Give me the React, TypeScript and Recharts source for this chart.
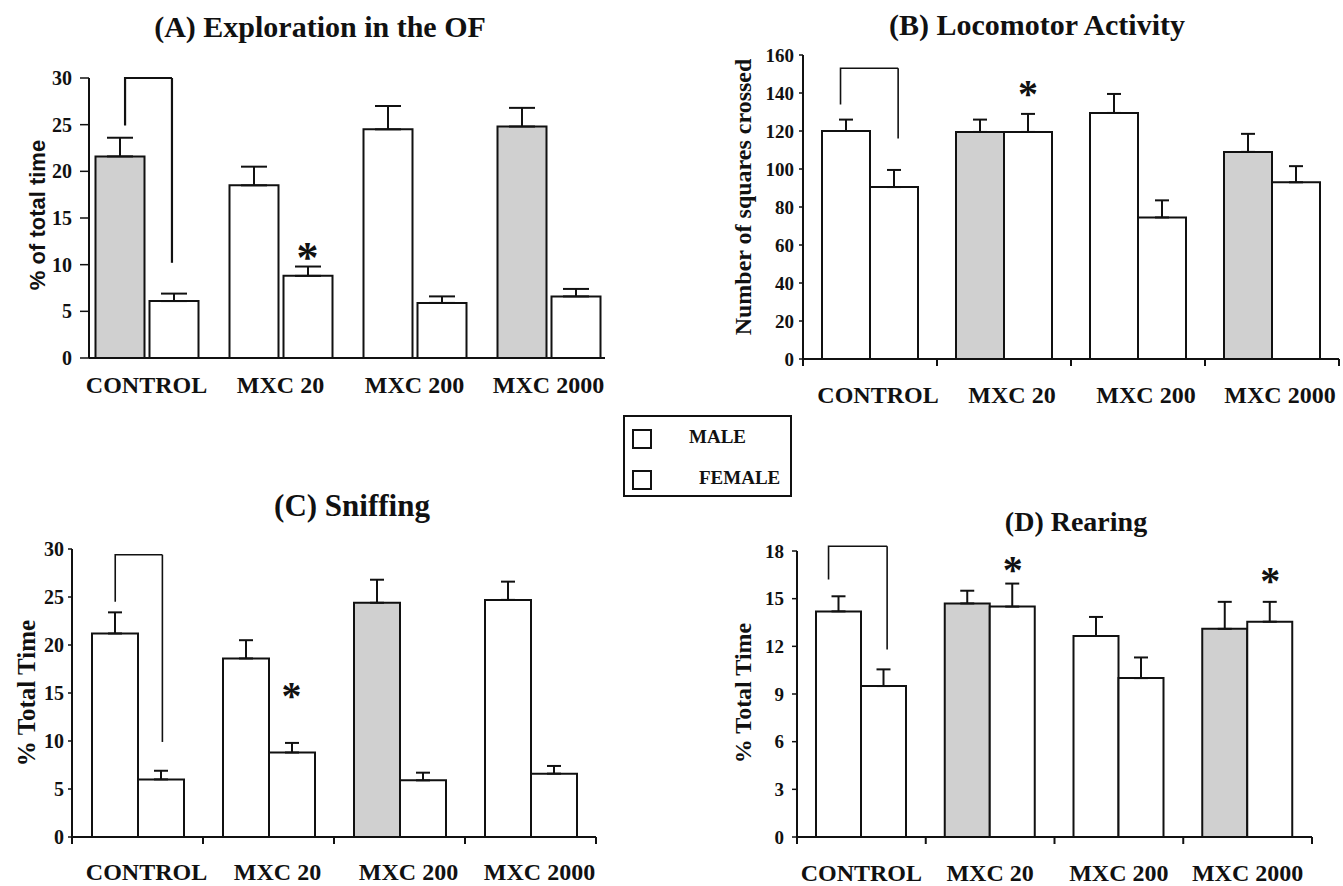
import React from "react";
import {
  BarChart, Bar, XAxis, YAxis, Cell, ErrorBar, ReferenceLine, ReferenceDot,
} from "recharts";

const SERIF = '"Liberation Serif", "Times New Roman", serif';
const SANS = '"Liberation Sans", Arial, sans-serif';
const INK = "#111";
const GRAY = "#d0d0d0";

const groups = ["CONTROL", "MXC 20", "MXC 200", "MXC 2000"];

// (A) Exploration in the OF
const aMale = [21.6, 18.5, 24.5, 24.8];
const aMaleErr = [2.0, 2.0, 2.5, 2.0];
const aFemale = [6.1, 8.8, 5.9, 6.6];
const aFemaleErr = [0.8, 1.0, 0.7, 0.8];
const aMaleGray = [true, false, false, true];
const aTicks = [0, 5, 10, 15, 20, 25, 30];
// bracket over CONTROL: left x, right x (fraction of the group band), top, left end, right end
const aBracket = [0.34, 0.69, 30, 24.9, 10.2];
const aStarGroup = [1];
const aStarY = [11.5];

// (B) Locomotor Activity
const bMale = [120, 119.5, 129.5, 109];
const bMaleErr = [6, 6.5, 10, 9.5];
const bFemale = [90.5, 119.5, 74.5, 93];
const bFemaleErr = [9, 9.5, 9, 8.5];
const bMaleGray = [false, true, false, true];
const bTicks = [0, 20, 40, 60, 80, 100, 120, 140, 160];
const bBracket = [0.28, 0.71, 153, 134, 116];
const bStarGroup = [1];
const bStarY = [142.6];

// (C) Sniffing
const cMale = [21.2, 18.6, 24.4, 24.7];
const cMaleErr = [2.2, 1.9, 2.4, 1.9];
const cFemale = [6.0, 8.8, 5.9, 6.6];
const cFemaleErr = [0.9, 1.0, 0.8, 0.8];
const cMaleGray = [false, false, true, false];
const cTicks = [0, 5, 10, 15, 20, 25, 30];
const cBracket = [0.33, 0.69, 29.4, 24.5, 9.9];
const cStarGroup = [1];
const cStarY = [15.3];

// (D) Rearing
const dMale = [14.2, 14.7, 12.65, 13.1];
const dMaleErr = [0.95, 0.8, 1.2, 1.7];
const dFemale = [9.5, 14.5, 10.0, 13.55];
const dFemaleErr = [1.05, 1.45, 1.3, 1.25];
const dMaleGray = [false, true, false, true];
const dTicks = [0, 3, 6, 9, 12, 15, 18];
const dBracket = [0.245, 0.7, 18.3, 16.2, 11.8];
const dStarGroup = [1, 3];
const dStarY = [17.2, 16.5];

type Layout = {
  left: number; top: number; width: number; height: number;
  margin: { top: number; right: number; bottom: number; left: number };
  yWidth: number; yMax: number; yTickSize: number; yTickMargin: number; yFont: number;
  pad: [number, number]; barSize: number; barGap: number; cap: number;
  xDx: number; xTickMargin: number; edgeTicks: boolean; starSize: number;
  bracketWidth: number;
};

function Panel(props: {
  L: Layout; male: number[]; maleErr: number[]; female: number[]; femaleErr: number[];
  maleGray: boolean[]; ticks: number[]; bracket: number[]; starGroup: number[]; starY: number[];
}) {
  const { L, male, maleErr, female, femaleErr, maleGray, ticks, bracket, starGroup, starY } = props;
  const rows = groups.map((name, i) => ({
    name,
    male: male[i],
    female: female[i],
    maleErr: [0, maleErr[i]],
    femaleErr: [0, femaleErr[i]],
  }));
  const padding = { left: L.pad[0], right: L.pad[1] };
  const plotW = L.width - L.margin.left - L.margin.right - L.yWidth;
  const band = (plotW - L.pad[0] - L.pad[1]) / groups.length;
  const [bl, br, bTop, bLeftEnd, bRightEnd] = bracket;
  const offL = (bl - 0.5) * band;
  const offR = (br - 0.5) * band;
  const femaleOff = L.barGap / 2 + L.barSize / 2;
  const line = { stroke: INK, strokeWidth: L.bracketWidth, fill: "none" };

  return (
    <div style={{ position: "absolute", left: L.left, top: L.top }}>
      <BarChart
        width={L.width} height={L.height} data={rows} margin={L.margin}
        barSize={L.barSize} barGap={L.barGap}
      >
        <XAxis
          dataKey="name" padding={padding} interval={0}
          tickLine={false} tickSize={6} tickMargin={L.xTickMargin} height={45}
          axisLine={{ stroke: INK, strokeWidth: 2 }}
          tick={{ fill: INK, fontSize: 24, fontWeight: 700, fontFamily: SERIF, dx: L.xDx }}
        />
        <YAxis
          domain={[0, L.yMax]} ticks={ticks} interval={0} allowDataOverflow width={L.yWidth}
          tickSize={L.yTickSize} tickMargin={L.yTickMargin}
          axisLine={{ stroke: INK, strokeWidth: 2 }}
          tickLine={{ stroke: INK, strokeWidth: 1.5 }}
          tick={{ fill: INK, fontSize: L.yFont, fontWeight: 700, fontFamily: SERIF }}
        />
        <Bar dataKey="male" fill="#fff" stroke={INK} strokeWidth={2} isAnimationActive={false}>
          {male.map((_, i) => <Cell key={i} fill={maleGray[i] ? GRAY : "#fff"} />)}
          <ErrorBar dataKey="maleErr" direction="y" width={L.cap} stroke={INK} strokeWidth={2} isAnimationActive={false} />
        </Bar>
        <Bar dataKey="female" fill="#fff" stroke={INK} strokeWidth={2} isAnimationActive={false}>
          <ErrorBar dataKey="femaleErr" direction="y" width={L.cap} stroke={INK} strokeWidth={2} isAnimationActive={false} />
        </Bar>

        {L.edgeTicks && groups.map((g, i) => (
          <ReferenceLine
            key={`edge${i}`} x={g} position="start" ifOverflow="visible"
            shape={(p: any) => {
              const yb = Math.max(p.y1, p.y2);
              return <line x1={p.x1} x2={p.x1} y1={yb} y2={yb + 7} stroke={INK} strokeWidth={2} />;
            }}
          />
        ))}
        {L.edgeTicks && (
          <ReferenceLine
            x={groups[groups.length - 1]} position="end" ifOverflow="visible"
            shape={(p: any) => {
              const yb = Math.max(p.y1, p.y2);
              return <line x1={p.x1} x2={p.x1} y1={yb} y2={yb + 7} stroke={INK} strokeWidth={2} />;
            }}
          />
        )}

        {/* significance bracket between CONTROL male and female */}
        <ReferenceLine
          segment={[{ x: groups[0], y: bLeftEnd }, { x: groups[0], y: bTop }]}
          position="middle" ifOverflow="visible"
          shape={(p: any) => (
            <path d={`M${p.x1 + offL},${p.y1}V${p.y2}H${p.x1 + offR}`} {...line} />
          )}
        />
        <ReferenceLine
          segment={[{ x: groups[0], y: bTop }, { x: groups[0], y: bRightEnd }]}
          position="middle" ifOverflow="visible"
          shape={(p: any) => (
            <path d={`M${p.x1 + offR},${p.y1}V${p.y2}`} {...line} />
          )}
        />

        {starGroup.map((g, i) => (
          <ReferenceDot
            key={`star${i}`} x={groups[g]} y={starY[i]} r={0} ifOverflow="visible"
            shape={(p: any) => (
              <text
                x={p.cx + femaleOff} y={p.cy + L.starSize * 0.48} textAnchor="middle"
                fontSize={L.starSize} fontFamily={SERIF} fontWeight={700} fill={INK}
              >*</text>
            )}
          />
        ))}
      </BarChart>
    </div>
  );
}

const layoutA: Layout = {
  left: 0, top: 0, width: 640, height: 420,
  margin: { top: 78, right: 35, bottom: 17, left: 29 },
  yWidth: 60, yMax: 30, yTickSize: 9, yTickMargin: 8, yFont: 20,
  pad: [-9.5, -10.5], barSize: 49, barGap: 5, cap: 13,
  xDx: 0, xTickMargin: 12, edgeTicks: false, starSize: 44, bracketWidth: 2.2,
};
const layoutB: Layout = {
  left: 680, top: 0, width: 663, height: 420,
  margin: { top: 55, right: 4, bottom: 16, left: 63 },
  yWidth: 60, yMax: 160, yTickSize: 4, yTickMargin: 5, yFont: 19,
  pad: [0, 0], barSize: 48, barGap: 0, cap: 7,
  xDx: 8, xTickMargin: 21, edgeTicks: true, starSize: 40, bracketWidth: 1.6,
};
const layoutC: Layout = {
  left: 0, top: 420, width: 680, height: 466,
  margin: { top: 129, right: 84, bottom: 4, left: 22 },
  yWidth: 50, yMax: 30, yTickSize: 4, yTickMargin: 4, yFont: 20,
  pad: [0, 0], barSize: 46, barGap: 0, cap: 7,
  xDx: 9, xTickMargin: 20, edgeTicks: true, starSize: 40, bracketWidth: 1.6,
};
const layoutD: Layout = {
  left: 680, top: 420, width: 663, height: 466,
  margin: { top: 131, right: 31, bottom: 4, left: 62 },
  yWidth: 55, yMax: 18, yTickSize: 5, yTickMargin: 8, yFont: 19,
  pad: [0, 0], barSize: 45, barGap: 0, cap: 7,
  xDx: 0, xTickMargin: 21, edgeTicks: true, starSize: 40, bracketWidth: 1.6,
};

const abs = (x: number, y: number, extra: React.CSSProperties = {}): React.CSSProperties => ({
  position: "absolute", left: x, top: y, transform: "translate(-50%, -50%)",
  whiteSpace: "nowrap", fontFamily: SERIF, fontWeight: 700, color: INK, lineHeight: 1, ...extra,
});
const vLabel = (x: number, y: number, size: number, font = SERIF): React.CSSProperties =>
  abs(x, y, { transform: "translate(-50%, -50%) rotate(-90deg)", fontSize: size, fontFamily: font });

const legendSwatch = (top: number): React.CSSProperties => ({
  position: "absolute", left: 7, top, width: 20, height: 20,
  border: `2px solid ${INK}`, boxSizing: "border-box", background: "#fff",
});
const legendText = (left: number, top: number): React.CSSProperties => ({
  position: "absolute", left, top, transform: "translateY(-50%)",
  fontFamily: SERIF, fontWeight: 700, fontSize: 19, color: INK, lineHeight: 1,
});

export default function App() {
  return (
    <div style={{ position: "absolute", left: 0, top: 0, width: 1343, height: 886, background: "#fff", overflow: "hidden" }}>
      <div style={abs(320, 27, { fontSize: 30 })}>(A) Exploration in the OF</div>
      <div style={abs(1037, 25, { fontSize: 30 })}>(B) Locomotor Activity</div>
      <div style={abs(352, 505, { fontSize: 31 })}>(C) Sniffing</div>
      <div style={abs(1076, 522, { fontSize: 28 })}>(D) Rearing</div>

      <div style={vLabel(38, 215, 22, SANS)}>% of total time</div>
      <div style={vLabel(743, 197, 24)}>Number of squares crossed</div>
      <div style={vLabel(26, 693, 25)}>% Total Time</div>
      <div style={vLabel(743, 693, 24)}>% Total Time</div>

      <Panel L={layoutA} male={aMale} maleErr={aMaleErr} female={aFemale} femaleErr={aFemaleErr}
        maleGray={aMaleGray} ticks={aTicks} bracket={aBracket} starGroup={aStarGroup} starY={aStarY} />
      <Panel L={layoutB} male={bMale} maleErr={bMaleErr} female={bFemale} femaleErr={bFemaleErr}
        maleGray={bMaleGray} ticks={bTicks} bracket={bBracket} starGroup={bStarGroup} starY={bStarY} />
      <Panel L={layoutC} male={cMale} maleErr={cMaleErr} female={cFemale} femaleErr={cFemaleErr}
        maleGray={cMaleGray} ticks={cTicks} bracket={cBracket} starGroup={cStarGroup} starY={cStarY} />
      <Panel L={layoutD} male={dMale} maleErr={dMaleErr} female={dFemale} femaleErr={dFemaleErr}
        maleGray={dMaleGray} ticks={dTicks} bracket={dBracket} starGroup={dStarGroup} starY={dStarY} />

      {/* legend */}
      <div style={{ position: "absolute", left: 623, top: 415, width: 169, height: 82, border: `2px solid ${INK}`, boxSizing: "border-box", background: "#fff" }}>
        <div style={legendSwatch(12)} />
        <div style={legendSwatch(53)} />
        <div style={legendText(64, 19)}>MALE</div>
        <div style={legendText(74, 60)}>FEMALE</div>
      </div>
    </div>
  );
}
